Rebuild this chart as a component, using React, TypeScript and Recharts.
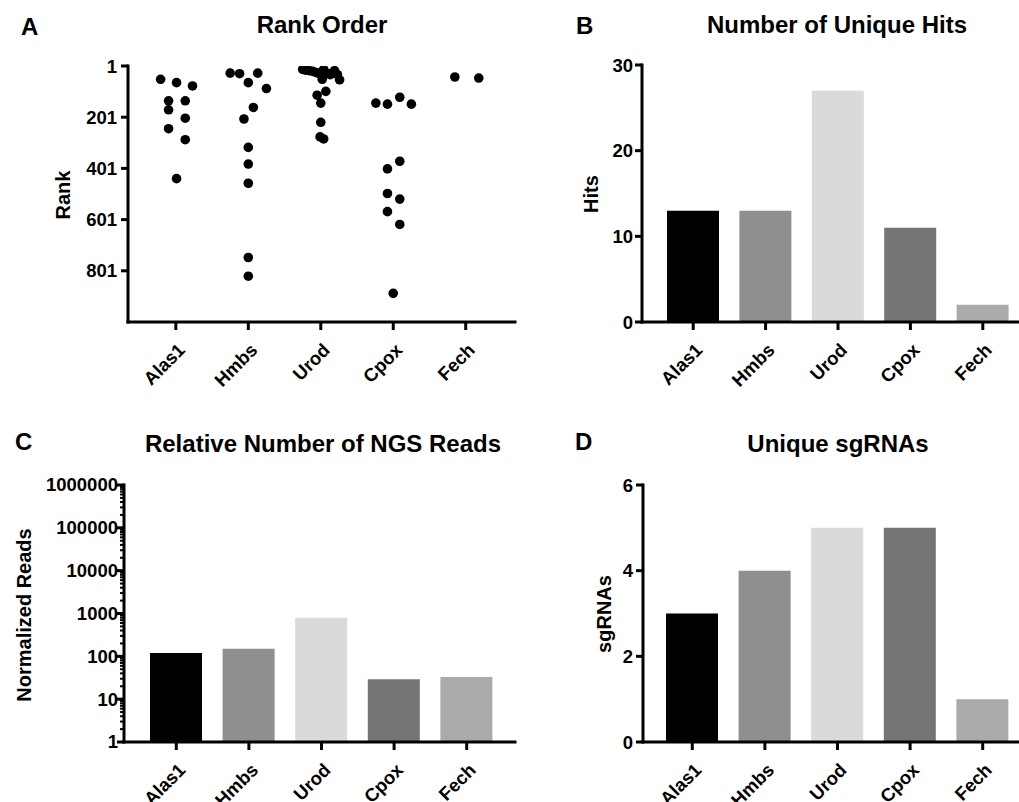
import {
  ScatterChart,
  Scatter,
  BarChart,
  Bar,
  Cell,
  XAxis,
  YAxis,
} from 'recharts';

// ---- data ----
const genes = ['Alas1', 'Hmbs', 'Urod', 'Cpox', 'Fech'];

// panel A: rank of each hit, plus the horizontal scatter offset used in the dot plot
const alas1Ranks = [53, 66, 79, 137, 137, 172, 205, 246, 289, 441];
const alas1Jitter = [-0.21, 0.01, 0.23, -0.1, 0.13, -0.1, 0.13, -0.1, 0.13, 0.01];
const hmbsRanks = [29, 31, 29, 66, 89, 163, 208, 319, 384, 459, 749, 822];
const hmbsJitter = [-0.25, -0.12, 0.13, 0, 0.25, 0.07, -0.06, 0, 0, 0, 0, 0];
const urodRanks = [14, 17, 19, 22, 27, 32, 14, 30, 35, 19, 35, 55, 53, 100, 115, 146, 221, 278, 286];
const urodJitter = [-0.25, -0.21, -0.16, -0.11, -0.06, -0.01, 0.04, 0.09, 0.13, 0.19, 0.23, 0.26, 0.02, 0.07, -0.05, 0, 0, -0.01, 0.04];
const cpoxRanks = [146, 150, 123, 150, 373, 403, 499, 521, 570, 620, 889];
const cpoxJitter = [-0.24, -0.08, 0.09, 0.25, 0.09, -0.08, -0.08, 0.09, -0.08, 0.09, 0];
const fechRanks = [44, 48];
const fechJitter = [-0.15, 0.18];

const uniqueHits = [13, 13, 27, 11, 2];
const normalizedReads = [119, 150, 800, 29, 33];
const uniqueSgRNAs = [3, 4, 5, 5, 1];

const rankTicks = [1, 201, 401, 601, 801];
const hitsTicks = [0, 10, 20, 30];
const readsDecades = [1, 10, 100, 1000, 10000, 100000, 1000000];
const sgRNATicks = [0, 2, 4, 6];

const barColors = ['#000000', '#8f8f8f', '#dadada', '#757575', '#aaaaaa'];

const FONT = '"Liberation Sans", Arial, Helvetica, sans-serif';

const rankData = [
  { ranks: alas1Ranks, jitter: alas1Jitter },
  { ranks: hmbsRanks, jitter: hmbsJitter },
  { ranks: urodRanks, jitter: urodJitter },
  { ranks: cpoxRanks, jitter: cpoxJitter },
  { ranks: fechRanks, jitter: fechJitter },
].flatMap((g, gi) => g.ranks.map((r, i) => ({ x: gi + g.jitter[i], rank: r })));

const barData = genes.map((gene, i) => ({
  gene,
  hits: uniqueHits[i],
  reads: normalizedReads[i],
  sgrnas: uniqueSgRNAs[i],
}));

// minor log ticks (2..9 within each decade) for the reads axis
const readsTicks = readsDecades.flatMap((d, i) =>
  i < readsDecades.length - 1 ? [d, 2 * d, 3 * d, 4 * d, 5 * d, 6 * d, 7 * d, 8 * d, 9 * d] : [d]
);

const axisLine = { stroke: '#000', strokeWidth: 3, strokeLinecap: 'square' as const };
const tickLine = { stroke: '#000', strokeWidth: 3 };
const yTick = { fill: '#000', fontSize: 18.5, fontWeight: 'bold', fontFamily: FONT };

/** Rotated gene label under each category tick. */
function GeneTick({ x, y, payload }: any) {
  const label = typeof payload.value === 'number' ? genes[payload.value] : payload.value;
  return (
    <text
      x={x + 1}
      y={y}
      dy="0.71em"
      textAnchor="end"
      transform={`rotate(-45 ${x + 1} ${y})`}
      fill="#000"
      fontSize={18.5}
      fontWeight="bold"
      fontFamily={FONT}
    >
      {label}
    </text>
  );
}

/** Log axis tick: long tick + label on decades, short tick in between. */
function LogTick({ x, y, payload }: any) {
  const major = readsDecades.includes(payload.value);
  return (
    <g>
      <line x1={x} x2={x - (major ? 7 : 4)} y1={y} y2={y} stroke="#000" strokeWidth={major ? 3 : 2} />
      {major && (
        <text
          x={x - 6}
          y={y}
          dy="0.35em"
          textAnchor="end"
          fill="#000"
          fontSize={18.5}
          fontWeight="bold"
          fontFamily={FONT}
        >
          {payload.value}
        </text>
      )}
    </g>
  );
}

function Dot(props: any) {
  return <circle cx={props.cx} cy={props.cy} r={4.8} fill="#000" />;
}

function Panel({ left, top, children }: { left: number; top: number; children: any }) {
  return <div style={{ position: 'absolute', left, top }}>{children}</div>;
}

export default function App() {
  const textStyle = { fontFamily: FONT, fontWeight: 'bold' as const, fill: '#000' };
  return (
    <div style={{ position: 'absolute', left: 0, top: 0, width: 1019, height: 802, background: '#fff', fontFamily: FONT }}>
      {/* A: rank order dot plot */}
      <Panel left={0} top={0}>
        <ScatterChart width={520} height={400} margin={{ top: 66, right: 5, bottom: 0, left: 0 }}>
          <XAxis
            type="number"
            dataKey="x"
            domain={[-0.66, 4.68]}
            ticks={[0, 1, 2, 3, 4]}
            allowDataOverflow
            interval={0}
            height={78}
            axisLine={axisLine}
            tickLine={tickLine}
            tickSize={8}
            tickMargin={12}
            tick={<GeneTick />}
          />
          <YAxis
            type="number"
            dataKey="rank"
            reversed
            domain={[1, 1001]}
            ticks={rankTicks}
            allowDataOverflow
            interval={0}
            width={128}
            axisLine={axisLine}
            tickLine={tickLine}
            tickSize={7}
            tickMargin={4}
            tick={yTick}
          />
          <Scatter data={rankData} shape={<Dot />} isAnimationActive={false} />
        </ScatterChart>
      </Panel>

      {/* B: number of unique hits */}
      <Panel left={520} top={0}>
        <BarChart width={499} height={400} data={barData} margin={{ top: 65, right: 0, bottom: 0, left: 0 }}>
          <XAxis
            dataKey="gene"
            interval={0}
            height={78}
            padding={{ left: 15, right: 0 }}
            axisLine={axisLine}
            tickLine={tickLine}
            tickSize={8}
            tickMargin={12}
            tick={<GeneTick />}
          />
          <YAxis
            type="number"
            domain={[0, 30]}
            ticks={hitsTicks}
            interval={0}
            width={122}
            axisLine={axisLine}
            tickLine={tickLine}
            tickSize={7}
            tickMargin={2}
            tick={yTick}
          />
          <Bar dataKey="hits" barSize={52} isAnimationActive={false}>
            {barData.map((d, i) => (
              <Cell key={d.gene} fill={barColors[i]} />
            ))}
          </Bar>
        </BarChart>
      </Panel>

      {/* C: relative number of NGS reads (log scale) */}
      <Panel left={0} top={400}>
        <BarChart width={520} height={402} data={barData} margin={{ top: 85, right: 5, bottom: 0, left: 0 }}>
          <XAxis
            dataKey="gene"
            interval={0}
            height={60}
            padding={{ left: 16, right: 12 }}
            axisLine={axisLine}
            tickLine={tickLine}
            tickSize={8}
            tickMargin={12}
            tick={<GeneTick />}
          />
          <YAxis
            type="number"
            scale="log"
            domain={[1, 1000000]}
            ticks={readsTicks}
            allowDataOverflow
            interval={0}
            width={124}
            axisLine={axisLine}
            tickLine={false}
            tickSize={0}
            tickMargin={0}
            tick={<LogTick />}
          />
          <Bar dataKey="reads" barSize={52} isAnimationActive={false}>
            {barData.map((d, i) => (
              <Cell key={d.gene} fill={barColors[i]} />
            ))}
          </Bar>
        </BarChart>
      </Panel>

      {/* D: unique sgRNAs */}
      <Panel left={520} top={400}>
        <BarChart width={499} height={402} data={barData} margin={{ top: 85, right: 0, bottom: 0, left: 0 }}>
          <XAxis
            dataKey="gene"
            interval={0}
            height={60}
            padding={{ left: 13, right: 0 }}
            axisLine={axisLine}
            tickLine={tickLine}
            tickSize={8}
            tickMargin={12}
            tick={<GeneTick />}
          />
          <YAxis
            type="number"
            domain={[0, 6]}
            ticks={sgRNATicks}
            interval={0}
            width={123}
            axisLine={axisLine}
            tickLine={tickLine}
            tickSize={7}
            tickMargin={3}
            tick={yTick}
          />
          <Bar dataKey="sgrnas" barSize={52} isAnimationActive={false}>
            {barData.map((d, i) => (
              <Cell key={d.gene} fill={barColors[i]} />
            ))}
          </Bar>
        </BarChart>
      </Panel>

      {/* panel letters, titles and axis titles */}
      <svg width={1019} height={802} style={{ position: 'absolute', left: 0, top: 0, pointerEvents: 'none' }}>
        <g style={textStyle} fontSize={24}>
          <text x={21} y={35}>A</text>
          <text x={576} y={34}>B</text>
          <text x={15} y={450}>C</text>
          <text x={575} y={450}>D</text>
        </g>
        <g style={textStyle} fontSize={24} textAnchor="middle">
          <text x={322} y={33}>Rank Order</text>
          <text x={837} y={33}>Number of Unique Hits</text>
          <text x={323} y={452}>Relative Number of NGS Reads</text>
          <text x={838} y={452}>Unique sgRNAs</text>
        </g>
        <g style={textStyle} fontSize={20} textAnchor="middle" dominantBaseline="central">
          <text transform="translate(63 195) rotate(-90)">Rank</text>
          <text transform="translate(591 194) rotate(-90)">Hits</text>
          <text transform="translate(24 615) rotate(-90)">Normalized Reads</text>
          <text transform="translate(604 614) rotate(-90)">sgRNAs</text>
        </g>
      </svg>
    </div>
  );
}
